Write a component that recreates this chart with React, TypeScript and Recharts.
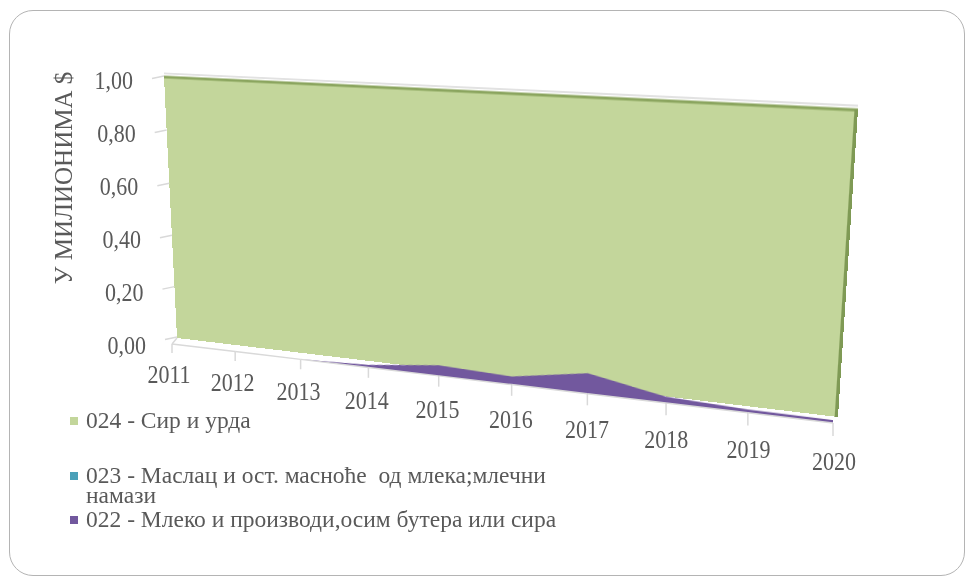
import React from 'react'
import { AreaChart, Area, XAxis, YAxis, ReferenceLine, Legend } from 'recharts'

const years = ['2011', '2012', '2013', '2014', '2015', '2016', '2017', '2018', '2019', '2020']
// 022 sits in the front row of the 3D chart
const milk022 = [0, 0, 0, 0.01, 0.04, 0.03, 0.074, 0.022, 0.012, 0.01]
// 023 never shows above the floor
const butter023 = [0, 0, 0, 0, 0, 0, 0, 0, 0, 0]
// 024 runs off the top of the axis every year
const cheese024 = [1, 1, 1, 1, 1, 1, 1, 1, 1, 1]
const yTicks = [0, 0.2, 0.4, 0.6, 0.8, 1]

const seriesNames: Record<string, string> = {
  cheese024: '024 - Сир и урда',
  butter023: '023 - Маслац и ост. масноће  од млека;млечни намази',
  milk022: '022 - Млеко и производи,осим бутера или сира',
}
const colors: Record<string, string> = { cheese024: '#c3d69b', butter023: '#4aa0b8', milk022: '#72589e' }
const legendOrder = ['cheese024', 'butter023', 'milk022']

const data = years.map((year, i) => ({
  year,
  milk022: milk022[i],
  butter023: butter023[i],
  cheese024: cheese024[i],
}))

const FONT = "'Liberation Serif', 'Times New Roman', serif"
const TEXT = '#595959'
const GRID = '#d9d9d9'

// size of the flat charts that get bent into perspective
const PW = 700
const PH = 310
const PTOP = 8
const yMax = 1 + PTOP / (PH - PTOP)

// where the back wall corners land on the page (value 1 on top, value 0 at the bottom)
const TL = [164, 77]
const TR = [858, 110]
const BR = [838, 417]
const BL = [177, 338]
const FRONT = [-5, 6] // shift of the front row / floor edge

function squareToQuad(p0: number[], p1: number[], p2: number[], p3: number[]) {
  const [x0, y0] = p0, [x1, y1] = p1, [x2, y2] = p2, [x3, y3] = p3
  const dx1 = x1 - x2, dx2 = x3 - x2, dx3 = x0 - x1 + x2 - x3
  const dy1 = y1 - y2, dy2 = y3 - y2, dy3 = y0 - y1 + y2 - y3
  const den = dx1 * dy2 - dx2 * dy1
  const g = (dx3 * dy2 - dx2 * dy3) / den
  const h = (dx1 * dy3 - dx3 * dy1) / den
  return { a: x1 - x0 + g * x1, b: x3 - x0 + h * x3, c: x0, d: y1 - y0 + g * y1, e: y3 - y0 + h * y3, f: y0, g, h }
}
const K = squareToQuad(TL, TR, BR, BL)

function project(u: number, v: number, shift = [0, 0]) {
  const w = K.g * u + K.h * v + 1
  return [(K.a * u + K.b * v + K.c) / w + shift[0], (K.d * u + K.e * v + K.f) / w + shift[1]]
}

function cssMatrix(shift = [0, 0]) {
  const sx = 1 / PW, sy = 1 / (PH - PTOP), oy = -PTOP / (PH - PTOP)
  let m00 = K.a * sx, m01 = K.b * sy, m02 = K.b * oy + K.c
  let m10 = K.d * sx, m11 = K.e * sy, m12 = K.e * oy + K.f
  const m20 = K.g * sx, m21 = K.h * sy, m22 = K.h * oy + 1
  m00 += shift[0] * m20; m01 += shift[0] * m21; m02 += shift[0] * m22
  m10 += shift[1] * m20; m11 += shift[1] * m21; m12 += shift[1] * m22
  return `matrix3d(${m00},${m10},0,${m20},${m01},${m11},0,${m21},0,0,1,0,${m02},${m12},0,${m22})`
}

// overlay chart layout (flat, holds the text)
const B_LEFT = 200
const B_RIGHT = 170
const B_PW = 970 - B_LEFT - B_RIGHT
const Y_W = 60

const fmt = (v: number) => v.toFixed(2).replace('.', ',')

// the reference type is drawn a bit taller than it is wide
const TallText = ({ x, y, anchor, children }: any) => (
  <text transform={`translate(${x},${y}) scale(1,1.15)`} x={0} y={0} textAnchor={anchor} dominantBaseline="central"
    fontFamily={FONT} fontSize={22} fill={TEXT}>{children}</text>
)

const FloorTick = (props: any) => {
  const { x, payload, index } = props
  const u = (x - B_LEFT) / B_PW
  const [fx, fy] = project(u, 1, FRONT)
  const step = 1 / (years.length - 1)
  const next = index < years.length - 1 ? project(u + step, 1, FRONT) : null
  const back = index === 0 ? project(0, 1) : null
  return (
    <g>
      {back && <line x1={back[0]} y1={back[1]} x2={fx} y2={fy} stroke={GRID} strokeWidth={1.5} />}
      {next && <line x1={fx} y1={fy} x2={next[0]} y2={next[1]} stroke={GRID} strokeWidth={1.5} />}
      <line x1={fx} y1={fy} x2={fx} y2={fy + 9 + 4 * u} stroke={GRID} strokeWidth={1.5} />
      <TallText x={fx - 3 + 4 * u} y={fy + 30 + 8 * u} anchor="middle">{payload.value}</TallText>
    </g>
  )
}

const WallTick = (props: any) => {
  const { y, payload } = props
  const [wx, wy] = project(0, 1 - payload.value)
  return (
    <g>
      <line x1={wx - 12} y1={wy + 1.5} x2={wx} y2={wy - 1} stroke={GRID} strokeWidth={1.5} />
      <TallText x={wx - 31} y={y} anchor="end">{fmt(payload.value)}</TallText>
    </g>
  )
}

const AxisTitle = (props: any) => (
  <text x={63} y={178} transform="rotate(-90 63 178)" textAnchor="middle" dominantBaseline="central"
    fontFamily={FONT} fontSize={25} fill={TEXT}>{props.value}</text>
)

const legendTops = [0, 55, 99]
const LegendRows = () => (
  <div style={{ position: 'relative', width: 560, height: 130, fontFamily: FONT, fontSize: 23.5, color: TEXT }}>
    {legendOrder.map((key, i) => (
      <div key={key} style={{ position: 'absolute', left: 0, top: legendTops[i], display: 'flex', alignItems: 'flex-start' }}>
        <span style={{ display: 'inline-block', flex: 'none', width: 8, height: 8, background: colors[key], marginTop: 7, marginRight: 8 }} />
        <span style={{ width: 480, whiteSpace: 'pre-wrap', lineHeight: '20px' }}>{seriesNames[key]}</span>
      </div>
    ))}
  </div>
)

export default function App() {
  return (
    <div style={{ position: 'absolute', left: 0, top: 0, width: 970, height: 578, background: '#fff', overflow: 'hidden' }}>
      <div style={{ position: 'absolute', left: 9, top: 10, width: 956, height: 566, boxSizing: 'border-box',
        border: '1.5px solid #b4b4b4', borderRadius: 24 }} />

      {/* back row: 024 */}
      <div style={{ position: 'absolute', left: 0, top: 0, width: PW, height: PH, transformOrigin: '0 0', transform: cssMatrix() }}>
        <AreaChart width={PW} height={PH} data={data} margin={{ top: 0, right: 0, bottom: 0, left: 0 }}>
          <XAxis dataKey="year" hide />
          <YAxis type="number" domain={[0, yMax]} allowDataOverflow hide />
          <ReferenceLine y={1 + 4 / (PH - PTOP)} stroke={GRID} strokeWidth={1.5} />
          <Area type="linear" dataKey="cheese024" name={seriesNames.cheese024} fill={colors.cheese024} fillOpacity={1}
            stroke="#8ba55f" strokeWidth={3} dot={false} activeDot={false} isAnimationActive={false} />
          <ReferenceLine segment={[{ x: '2020', y: 0 }, { x: '2020', y: 1 }]} stroke="#7f9a55" strokeWidth={6} />
        </AreaChart>
      </div>

      {/* front rows: 023 and 022 */}
      <div style={{ position: 'absolute', left: 0, top: 0, width: PW, height: PH, transformOrigin: '0 0', transform: cssMatrix(FRONT) }}>
        <AreaChart width={PW} height={PH} data={data} margin={{ top: 0, right: 0, bottom: 0, left: 0 }}>
          <XAxis dataKey="year" hide />
          <YAxis type="number" domain={[0, yMax]} allowDataOverflow hide />
          <Area type="linear" dataKey="butter023" name={seriesNames.butter023} fill={colors.butter023} fillOpacity={1}
            stroke="none" dot={false} activeDot={false} isAnimationActive={false} />
          <Area type="linear" dataKey="milk022" name={seriesNames.milk022} fill={colors.milk022} fillOpacity={1}
            stroke="none" dot={false} activeDot={false} isAnimationActive={false} />
        </AreaChart>
      </div>

      {/* flat overlay: axis labels and legend */}
      <div style={{ position: 'absolute', left: 0, top: 0 }}>
        <AreaChart width={970} height={578} data={data} margin={{ top: 80, right: B_RIGHT, bottom: 203, left: B_LEFT - Y_W }}>
          <XAxis dataKey="year" height={30} interval={0} axisLine={false} tickLine={false} tick={<FloorTick />} />
          <YAxis type="number" width={Y_W} domain={[0, 1]} ticks={yTicks} interval={0} axisLine={false} tickLine={false}
            tick={<WallTick />} label={<AxisTitle value="У МИЛИОНИМА $" />} />
          {legendOrder.map(key => (
            <Area key={key} type="linear" dataKey={key} name={seriesNames[key]} fill="none" stroke="none"
              dot={false} activeDot={false} isAnimationActive={false} />
          ))}
          <Legend layout="horizontal" verticalAlign="middle" align="center" content={<LegendRows />}
            wrapperStyle={{ left: 70, top: 410, width: 560, height: 130 }} />
        </AreaChart>
      </div>
    </div>
  )
}
